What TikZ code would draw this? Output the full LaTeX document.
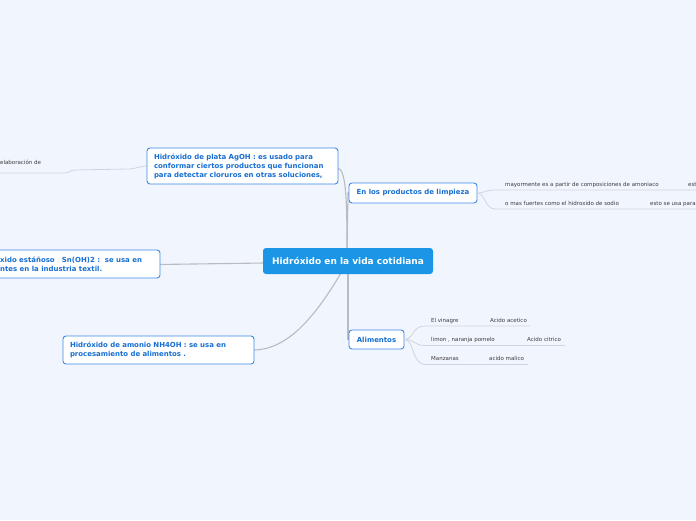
\documentclass[tikz,border=0pt]{standalone}
\usepackage{fontspec}
\setmainfont{DejaVu Sans}
\definecolor{bg}{RGB}{241,245,254}
\definecolor{boxline}{RGB}{62,140,230}
\definecolor{boxtext}{RGB}{22,110,210}
\definecolor{centerfill}{RGB}{27,150,230}
\definecolor{mainline}{RGB}{185,187,194}
\definecolor{leafline}{RGB}{208,212,222}
\definecolor{leaftext}{RGB}{60,60,60}
\tikzset{
  topicbox/.style={draw=boxline, line width=0.9pt, fill=white, rounded corners=3pt,
    text=boxtext, font=\fontsize{6.95}{9}\selectfont\bfseries, align=left, inner sep=0pt},
  topictext/.style={text=boxtext, font=\fontsize{6.95}{9}\selectfont\bfseries, align=left, inner sep=0pt},
  centerbox/.style={fill=centerfill, rounded corners=3pt, text=white,
    font=\fontsize{9}{10}\selectfont\bfseries, minimum width=170pt, minimum height=26pt, inner sep=0pt},
  leaf/.style={text=leaftext, font=\fontsize{5.5}{6.5}\selectfont, anchor=base west, inner sep=0pt},
  conn/.style={draw=mainline, line width=1.1pt},
  leafconn/.style={draw=leafline, line width=0.8pt}
}
\begin{document}
\begin{tikzpicture}[x=1pt,y=-1pt]
\useasboundingbox (0,0) rectangle (696,520);
\fill[bg] (0,0) rectangle (696,520);
\clip (0,0) rectangle (696,520);

% main connectors (behind nodes)
\coordinate (cn) at (347,249);
\coordinate (cs) at (348,273);
\coordinate (cs2) at (341,273);
\path[conn] (338,168) .. controls (346,170) and (347,200) .. (cn);
\path[conn] (cn) -- (348,193) -- (350,193);
\path[conn] (cs) -- (348,339) -- (350,339);
\path[conn] (264,263) -- (158,264.5);
\path[conn] (cs2) .. controls (312,322) and (285,350) .. (253,350);

\node[centerbox] (c) at (348,261) {Hidróxido en la vida cotidiana};

\node[topicbox, minimum width=191pt, minimum height=36pt, text width=177pt] (plata) at (242.5,166)
  {Hidróxido de plata AgOH : es usado para\\conformar ciertos productos que funcionan\\para detectar cloruros en otras soluciones,};
\node[topicbox, minimum width=128pt, minimum height=20pt] (limp) at (413,193) {En los productos de limpieza};
\node[topicbox, minimum width=190pt, minimum height=28pt] (estan) at (65,264) {};
\node[topictext, anchor=west] (estant) at (0,264)
  {xido estáñoso\ \ \ Sn(OH)2 :\ \ se usa en\\ntes en la industria textil.};
\node[topicbox, minimum width=191pt, minimum height=28pt, text width=177pt] (amon) at (158.5,350)
  {Hidróxido de amonio NH4OH : se usa en\\procesamiento de alimentos .};
\node[topicbox, minimum width=55pt, minimum height=19pt] (alim) at (376.5,339.5) {Alimentos};

% plata leaf
\coordinate (pl0) at (-5,173);
\path[leafconn] (plata.west) .. controls (140,166) and (136,169) .. (128,169)
  -- (75,170) .. controls (70,170) and (70,173) .. (64,173) -- (pl0);
\node[leaf] (pla1) at (0,164.5) {elaboración de};

% limpieza leaves
\coordinate (l1e) at (700,190);
\coordinate (l2e) at (700,209);
\path[leafconn] (limp.east) .. controls (485,193) and (485,190) .. (495,190) -- (l1e);
\path[leafconn] (limp.east) .. controls (485,193) and (485,209) .. (495,209) -- (l2e);
\node[leaf] (lt1) at (505,186) {mayormente es a partir de composiciones de amoniaco};
\node[leaf] (lt1b) at (688,186) {est};
\node[leaf] (lt2) at (505,205) {o mas fuertes como el hidroxido de sodio};
\node[leaf] (lt2b) at (650,205) {esto se usa para};

% alimentos leaves
\coordinate (a1e) at (530,326);
\coordinate (a2e) at (565,345.5);
\coordinate (a3e) at (528,364.5);
\path[leafconn] (alim.east) .. controls (414,339) and (412,326) .. (425,326) -- (a1e);
\path[leafconn] (alim.east) .. controls (414,339) and (414,345.5) .. (425,345.5) -- (a2e);
\path[leafconn] (alim.east) .. controls (414,339) and (412,364.5) .. (425,364.5) -- (a3e);
\node[leaf] (at1) at (431,322) {El vinagre};
\node[leaf] (at1b) at (490,322) {Acido acetico};
\node[leaf] (at2) at (431,341.5) {limon , naranja pomelo};
\node[leaf] (at2b) at (527,341.5) {Acido citrico};
\node[leaf] (at3) at (431,360.5) {Manzanas};
\node[leaf] (at3b) at (489,360.5) {acido malico};
\end{tikzpicture}
\end{document}
